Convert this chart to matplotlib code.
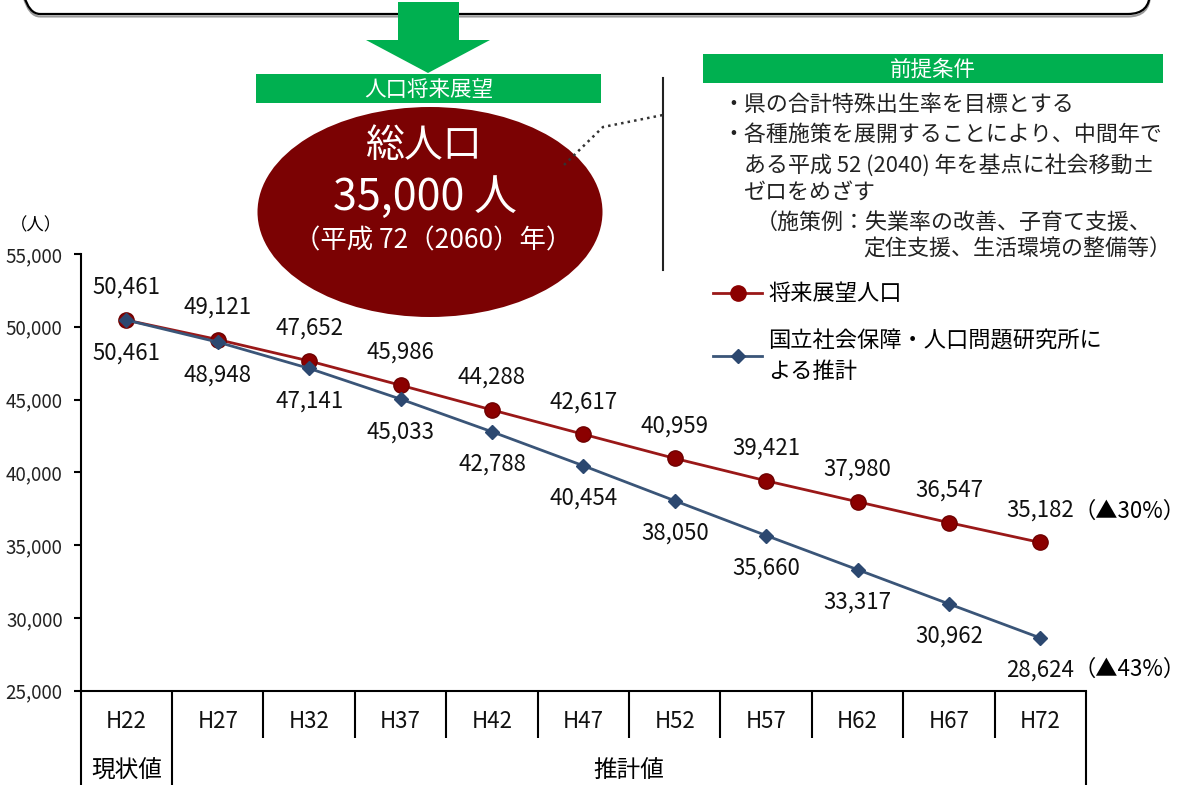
import matplotlib
matplotlib.use("Agg")
import matplotlib.pyplot as plt
from matplotlib.patches import Ellipse, Rectangle, FancyBboxPatch, Polygon
from matplotlib.lines import Line2D
from matplotlib import transforms

plt.rcParams['font.family'] = ['Noto Sans CJK JP', 'DejaVu Sans']

# ---- data -------------------------------------------------------------
periods = ['H22', 'H27', 'H32', 'H37', 'H42', 'H47', 'H52', 'H57', 'H62', 'H67', 'H72']
vision = [50461, 49121, 47652, 45986, 44288, 42617, 40959, 39421, 37980, 36547, 35182]
ipss = [50461, 48948, 47141, 45033, 42788, 40454, 38050, 35660, 33317, 30962, 28624]
vision_change = '（▲30%）'
ipss_change = '（▲43%）'
series_names = ['将来展望人口', '国立社会保障・人口問題研究所に\nよる推計']
yticks = [25000, 30000, 35000, 40000, 45000, 50000, 55000]
row_labels = ['現状値', '推計値']

RED_LINE = '#9A1818'
RED_MARK = '#8B0000'
BLUE_LINE = '#3A5578'
BLUE_MARK = '#2C4870'
GREEN = '#00B050'
MAROON = '#7B0203'

W, H = 1182, 785
fig = plt.figure(figsize=(W / 100, H / 100), dpi=100)
inch = fig.dpi_scale_trans


def P(x, y):
    """pixel position (from top-left) -> inches for dpi_scale_trans"""
    return (x / 100, (H - y) / 100)


# ---- main axes ----------------------------------------------------------
x0, x1, ytop, ybot = 80.7, 1086.0, 254.0, 690.7
ax = fig.add_axes([x0 / W, 1 - ybot / H, (x1 - x0) / W, (ybot - ytop) / H])
ax.set_xlim(-0.5, len(periods) - 0.5)
ax.set_ylim(25000, 55000)
ax.spines['top'].set_visible(False)
ax.spines['right'].set_visible(False)
for s in ('left', 'bottom'):
    ax.spines[s].set_linewidth(1.5)
ax.set_xticks([])
ax.set_yticks(yticks)
ax.set_yticklabels([f'{v:,}' for v in yticks], fontsize=13.5, color='#222222')
ax.tick_params(axis='y', direction='out', length=5, width=1.5, pad=8)

xs = list(range(len(periods)))
ax.plot(xs, vision, color=RED_LINE, lw=2.0, marker='o', ms=11,
        mfc=RED_MARK, mec='#6E0000', mew=1.0, zorder=3, clip_on=False)
ax.plot(xs, ipss, color=BLUE_LINE, lw=2.0, marker='D', ms=7,
        mfc=BLUE_MARK, mec=BLUE_MARK, zorder=4, clip_on=False)

lab_fs = 16
for i, v in enumerate(vision):
    ax.annotate(f'{v:,}', (i, v), xytext=(0, 23.5), textcoords='offset points',
                ha='center', va='center', fontsize=lab_fs, color='#111111')
for i, v in enumerate(ipss):
    ax.annotate(f'{v:,}', (i, v), xytext=(0, -23.5), textcoords='offset points',
                ha='center', va='center', fontsize=lab_fs, color='#111111')
# change rates next to the final values
last = len(periods) - 1
ax.annotate(vision_change, (last, vision[last]), xytext=(24, 22.5),
            textcoords='offset points', ha='left', va='center', fontsize=lab_fs,
            annotation_clip=False)
ax.annotate(ipss_change, (last, ipss[last]), xytext=(24, -22.5),
            textcoords='offset points', ha='left', va='center', fontsize=lab_fs,
            annotation_clip=False)

fig.text(36 / W, 1 - 225 / H, '（人）', ha='center', va='center', fontsize=12.5)

# ---- category table under the axis -------------------------------------
bt = transforms.blended_transform_factory(ax.transData, fig.transFigure)
fy = lambda p: 1 - p / H
tbl = dict(color='black', lw=1.5, transform=bt, clip_on=False, solid_capstyle='butt')
ax.add_line(Line2D([-0.5, -0.5], [fy(ybot), fy(H + 2)], **tbl))
ax.add_line(Line2D([0.5, 0.5], [fy(ybot), fy(H + 2)], **tbl))
ax.add_line(Line2D([last + 0.5, last + 0.5], [fy(ybot), fy(H + 2)], **tbl))
for k in range(1, last):
    ax.add_line(Line2D([k + 0.5, k + 0.5], [fy(ybot), fy(738)], **tbl))
for i, p in enumerate(periods):
    ax.text(i, fy(722), p, transform=bt, ha='center', va='center', fontsize=16,
            color='#111111')
ax.text(0, fy(771), row_labels[0], transform=bt, ha='center', va='center', fontsize=17)
ax.text((1 + last) / 2, fy(771), row_labels[1], transform=bt, ha='center',
        va='center', fontsize=17)

# ---- legend --------------------------------------------------------------
leg_items = [(293, RED_LINE, 'o', 11, RED_MARK), (356, BLUE_LINE, 'D', 7, BLUE_MARK)]
for (yy, lc, mk, ms, mc), name in zip(leg_items, series_names):
    (lx0, ly), (lx1, _) = P(713, yy), P(762, yy)
    fig.add_artist(Line2D([lx0, lx1], [ly, ly], color=lc, lw=2.0, transform=inch))
    fig.add_artist(Line2D([(lx0 + lx1) / 2], [ly], marker=mk, ms=ms, mfc=mc,
                          mec=mc, transform=inch))
    fig.text(*P(768, yy), name, transform=inch, ha='left', va='center',
             fontsize=16, linespacing=1.45)

# ---- header graphics -------------------------------------------------------
# rounded frame cut off at the top
for off, col, lw in ((2.5, '#9A9A9A', 1.5), (0, 'black', 1.6)):
    bx, by = P(18, 14 + off)
    fig.add_artist(FancyBboxPatch((bx, by), 11.32, 1.0,
                                  boxstyle='round,pad=0,rounding_size=0.22',
                                  fc='none', ec=col, lw=lw, transform=inch, zorder=5))
# arrow
arrow_px = [(398, 2), (459, 2), (459, 40), (490, 40), (428, 73), (366, 40), (398, 40)]
fig.add_artist(Polygon([P(*q) for q in arrow_px], closed=True, fc=GREEN, ec='none',
                       transform=inch, zorder=6))
# green captions
for (rx0, ry0, rx1, ry1), txt in (((256, 74, 601, 103), '人口将来展望'),
                                  ((703, 54, 1163, 83), '前提条件')):
    fig.add_artist(Rectangle(P(rx0, ry1), (rx1 - rx0) / 100, (ry1 - ry0) / 100,
                             fc=GREEN, ec='none', transform=inch, zorder=6))
    fig.text(*P((rx0 + rx1) / 2, (ry0 + ry1) / 2 + 1), txt, transform=inch,
             ha='center', va='center', fontsize=15.5, color='white', zorder=7)

# target ellipse
fig.add_artist(Ellipse(P(430, 212), 3.45, 2.10, fc=MAROON, ec='none',
                       transform=inch, zorder=6))
fig.text(*P(424, 146), '総人口', transform=inch, ha='center', va='center',
         fontsize=28, color='white', zorder=7)
fig.text(*P(425, 198), '35,000 人', transform=inch, ha='center', va='center',
         fontsize=31, color='white', zorder=7)
fig.text(*P(433, 241), '（平成 72（2060）年）', transform=inch, ha='center',
         va='center', fontsize=19, color='white', zorder=7)

# leader line and divider
dots = [P(564, 165), P(603, 127), P(663, 115)]
fig.add_artist(Line2D([d[0] for d in dots], [d[1] for d in dots], ls=':', lw=1.8,
                      color='#333333', transform=inch, zorder=8))
fig.add_artist(Line2D([6.63, 6.63], [P(0, 78)[1], P(0, 270)[1]], color='#222222',
                      lw=1.5, transform=inch, zorder=6))

# premise notes
notes = [
    (722, 105, '・県の合計特殊出生率を目標とする'),
    (722, 135, '・各種施策を展開することにより、中間年で'),
    (744, 165, 'ある平成 52 (2040) 年を基点に社会移動±'),
    (744, 193, 'ゼロをめざす'),
    (756, 223, '（施策例：失業率の改善、子育て支援、'),
    (863, 250, '定住支援、生活環境の整備等）'),
]
for nx, ny, t in notes:
    fig.text(*P(nx, ny), t, transform=inch, ha='left', va='center', fontsize=15.8,
             color='#222222', zorder=7)

fig.savefig('out.png', dpi=100)
